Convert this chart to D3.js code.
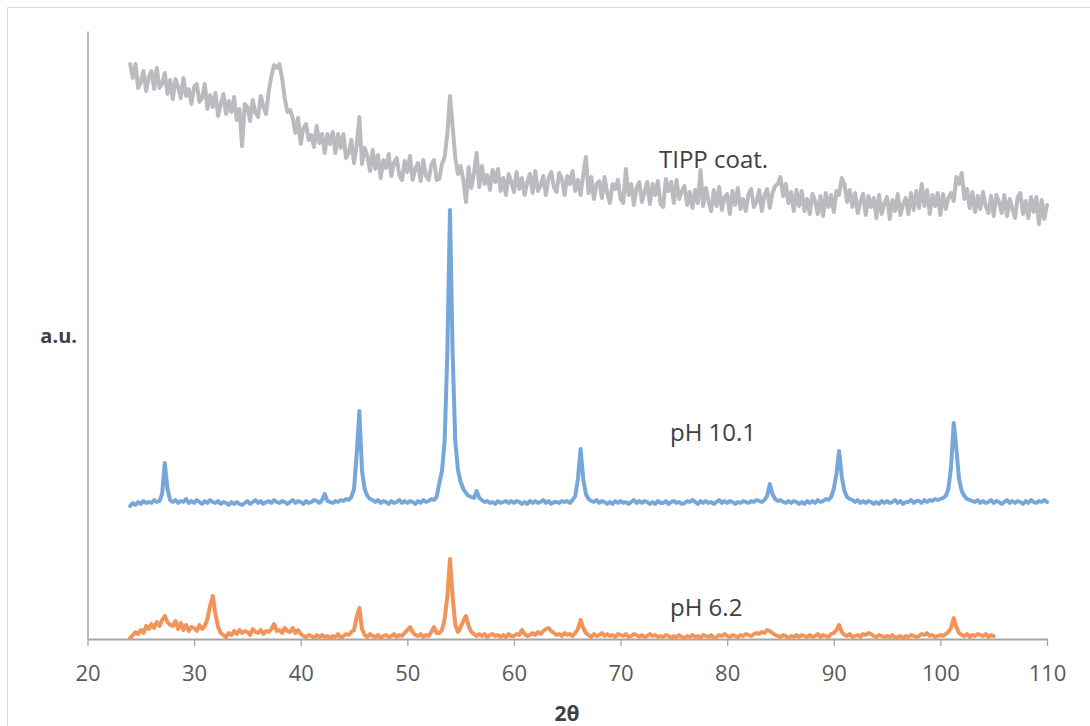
<!DOCTYPE html>
<html>
<head>
<meta charset="utf-8">
<script src="https://cdn.jsdelivr.net/npm/d3@7"></script>
<style>
  body { margin: 0; background: #fff; }
  svg { display: block; font-family: "Open Sans", "Noto Sans", sans-serif; }
</style>
</head>
<body>
<svg id="chart" width="1090" height="726"></svg>
<script>
// scan grid: 2θ starts at 24 and steps 0.25 deg
var scanStart = 24, scanStep = 0.25;
var xTicks = [20, 30, 40, 50, 60, 70, 80, 90, 100, 110];

// intensities (a.u.), one group of 4 per degree
var tippCoat = [
  575, 561, 575, 551,  557, 568, 548, 562,  568, 550, 571, 551,  555, 566, 545, 559,
  540, 560, 552, 541,  561, 543, 550, 535,  552, 555, 537, 541,  555, 530, 544, 532,
  546, 523, 535, 545,  525, 538, 527, 542,  519, 530, 493, 535,  532, 518, 539, 526,
  522, 543, 532, 525,  548, 563, 574, 571,  575, 561, 541, 527,  529, 521, 506, 521,
  495, 511, 515, 499,  504, 492, 513, 496,  505, 486, 505, 495,  507, 486, 505, 491,
  505, 481, 486, 499,  476, 494, 522, 475,  491, 483, 468, 489,  470, 484, 461, 479,
  471, 485, 463, 476,  481, 464, 459, 478,  467, 483, 459, 470,  476, 458, 479, 463,
  459, 474, 479, 459,  460, 475, 482, 505,  543, 512, 481, 465,  473, 459, 437, 472,
  451, 466, 486, 452,  473, 455, 464, 449,  469, 457, 470, 448,  461, 444, 465, 457,
  447, 467, 450, 461,  444, 457, 465, 446,  468, 448, 453, 463,  444, 461, 467, 452,
  447, 466, 460, 444,  463, 455, 468, 448,  459, 444, 464, 482,  446, 462, 440, 455,
  458, 441, 462, 446,  436, 455, 450, 459,  440, 436, 470, 444,  455, 434, 451, 457,
  437, 447, 457, 435,  455, 444, 458, 435,  432, 460, 448, 457,  436, 459, 440, 448,
  453, 434, 447, 431,  449, 436, 469, 433,  451, 438, 428, 449,  433, 452, 429, 442,
  445, 425, 448, 434,  451, 430, 440, 428,  445, 450, 432, 437,  449, 428, 444, 450,
  431, 446, 453, 455,  462, 443, 455, 436,  447, 428, 449, 433,  448, 428, 440, 425,
  445, 438, 425, 443,  423, 446, 432, 444,  427, 448, 444, 461,  455, 437, 449, 432,
  446, 426, 437, 445,  424, 443, 432, 441,  421, 444, 425, 436,  442, 420, 439, 428,
  445, 424, 435, 441,  425, 446, 429, 448,  431, 455, 433, 449,  425, 444, 433, 446,
  424, 445, 430, 441,  446, 438, 462, 455,  466, 440, 450, 431,  447, 427, 443, 430,
  447, 433, 426, 443,  423, 444, 437, 426,  444, 423, 440, 430,  421, 442, 446, 425,
  438, 421, 442, 427,  442, 415, 439, 420,  434
];

var ph101 = [
  133, 136, 134, 137,  135, 138, 136, 137,  136, 139, 137, 138,  145, 176, 150, 139,
  137, 139, 136, 138,  137, 140, 136, 138,  136, 139, 137, 135,  138, 136, 139, 137,
  136, 138, 135, 137,  136, 134, 137, 135,  137, 135, 134, 136,  138, 135, 137, 139,
  136, 138, 135, 137,  138, 136, 139, 137,  136, 138, 137, 135,  137, 139, 136, 138,
  137, 135, 138, 136,  137, 139, 138, 136,  139, 145, 138, 137,  136, 138, 137, 139,
  138, 140, 139, 142,  150, 185, 228, 168,  150, 143, 140, 139,  137, 139, 136, 138,
  137, 135, 138, 136,  137, 139, 136, 138,  136, 138, 137, 135,  138, 136, 139, 137,
  138, 140, 139, 142,  156, 168, 198, 285,  429, 285, 198, 169,  157, 150, 146, 143,
  142, 141, 148, 141,  139, 137, 138, 136,  137, 135, 138, 136,  137, 138, 136, 138,
  136, 138, 137, 135,  137, 135, 138, 136,  138, 136, 137, 139,  136, 138, 135, 137,
  137, 136, 138, 137,  138, 136, 139, 143,  160, 190, 160, 145,  140, 138, 137, 139,
  136, 138, 137, 135,  137, 135, 138, 136,  138, 136, 137, 135,  137, 139, 136, 138,
  136, 138, 137, 135,  137, 135, 138, 136,  136, 138, 135, 137,  138, 136, 137, 135,
  136, 138, 137, 139,  137, 135, 138, 136,  138, 136, 137, 135,  137, 139, 136, 138,
  136, 138, 137, 135,  137, 136, 138, 137,  136, 138, 137, 139,  138, 137, 139, 143,
  155, 145, 140, 138,  139, 137, 136, 138,  136, 138, 137, 135,  137, 135, 138, 136,
  138, 136, 139, 137,  138, 140, 139, 142,  150, 165, 188, 162,  148, 142, 140, 139,
  137, 139, 136, 138,  136, 138, 137, 135,  137, 135, 138, 136,  138, 136, 137, 139,
  136, 138, 135, 137,  137, 139, 136, 138,  138, 136, 139, 137,  139, 138, 140, 139,
  140, 141, 143, 150,  172, 216, 190, 160,  148, 143, 140, 139,  138, 137, 139, 136,
  138, 136, 137, 139,  136, 138, 137, 135,  137, 139, 136, 138,  136, 138, 137, 135,
  138, 136, 139, 137,  136, 138, 137, 139,  137
];

var ph62 = [
  1, 4, 7, 5,  9, 6, 13, 10,  15, 11, 17, 13,  19, 23, 17, 14,
  13, 18, 10, 16,  9, 14, 8, 12,  11, 8, 14, 10,  13, 20, 33, 43,
  25, 12, 6, 4,  2, 6, 4, 8,  5, 9, 6, 8,  7, 4, 10, 7,
  6, 9, 5, 8,  7, 10, 15, 8,  9, 6, 11, 8,  7, 11, 6, 9,
  5, 3, 2, 4,  3, 1, 4, 2,  4, 2, 3, 1,  3, 2, 5, 1,
  3, 5, 4, 7,  9, 22, 31, 10,  4, 2, 5, 3,  2, 4, 1, 3,
  4, 2, 3, 5,  2, 4, 3, 6,  9, 12, 7, 4,  3, 5, 2, 4,
  3, 7, 12, 6,  6, 9, 20, 42,  80, 42, 14, 7,  12, 18, 23, 13,
  7, 5, 3, 5,  3, 5, 2, 4,  5, 3, 4, 2,  4, 2, 5, 3,
  3, 5, 4, 9,  5, 3, 4, 6,  4, 7, 5, 8,  10, 11, 8, 6,
  4, 5, 3, 6,  4, 5, 3, 6,  10, 19, 11, 6,  4, 2, 5, 3,
  4, 6, 3, 5,  3, 4, 2, 5,  4, 3, 5, 2,  3, 5, 4, 2,
  4, 2, 3, 5,  3, 4, 2, 3,  2, 4, 3, 1,  3, 2, 4, 2,
  1, 3, 2, 4,  2, 3, 1, 4,  3, 2, 4, 1,  2, 4, 3, 5,
  3, 2, 4, 3,  2, 4, 3, 5,  4, 3, 5, 6,  5, 7, 6, 9,
  8, 6, 4, 3,  2, 4, 3, 1,  3, 2, 4, 2,  4, 3, 2, 4,
  2, 3, 5, 2,  4, 3, 2, 5,  6, 9, 14, 7,  4, 3, 5, 2,
  3, 4, 2, 5,  4, 6, 5, 3,  2, 4, 3, 2,  3, 2, 4, 1,
  2, 3, 1, 3,  2, 4, 3, 2,  3, 5, 4, 6,  3, 4, 2, 3,
  4, 3, 5, 7,  11, 21, 12, 6,  4, 3, 5, 2,  4, 3, 5, 4,
  3, 5, 2, 4,  3
];

var seriesNames = ["TIPP coat.", "pH 10.1", "pH 6.2"];
var seriesColors = ["#babbbe", "#76a7db", "#f29358"];

var svg = d3.select("#chart");

// outer frame (left and top edges are the ones visible)
svg.append("path")
  .attr("d", "M7.5,726V7.5H1090")
  .attr("fill", "none")
  .attr("stroke", "#d9d9d9")
  .attr("stroke-width", 1);

var x = d3.scaleLinear().domain([20, 110]).range([87.5, 1047]);
var y = d3.scaleLinear().domain([0, 608]).range([639, 31]);

// x axis
var xAxis = svg.append("g")
  .attr("transform", "translate(0,639)")
  .call(d3.axisBottom(x).tickValues(xTicks).tickSize(7).tickSizeOuter(0).tickPadding(19));
xAxis.select(".domain").attr("stroke", "#a6a6a6").attr("stroke-width", 1.8);
xAxis.selectAll(".tick line").attr("stroke", "#a6a6a6").attr("stroke-width", 1.3);
xAxis.selectAll(".tick text")
  .attr("fill", "#595959")
  .style("font-size", "22px")
  .style("font-family", "'Open Sans', sans-serif");

// y axis (no ticks)
var yAxis = svg.append("g")
  .attr("transform", "translate(87.5,0)")
  .call(d3.axisLeft(y).tickValues([]).tickSizeOuter(0));
yAxis.select(".domain").attr("stroke", "#a6a6a6").attr("stroke-width", 1.5);

var line = d3.line()
  .x(function(d, i) { return x(scanStart + i * scanStep); })
  .y(function(d) { return y(d); });

var allSeries = [tippCoat, ph101, ph62];
allSeries.forEach(function(s, k) {
  svg.append("path")
    .datum(s)
    .attr("d", line)
    .attr("fill", "none")
    .attr("stroke", seriesColors[k])
    .attr("stroke-width", 4)
    .attr("stroke-linejoin", "round")
    .attr("stroke-linecap", "round");
});

// series labels
var labelPos = [[659, 168], [670, 441], [670, 616]];
seriesNames.forEach(function(n, k) {
  svg.append("text")
    .attr("x", labelPos[k][0])
    .attr("y", labelPos[k][1])
    .attr("fill", "#404040")
    .style("font-size", "24px")
    .text(n);
});

// axis titles
svg.append("text")
  .attr("x", 77).attr("y", 343)
  .attr("text-anchor", "end")
  .attr("fill", "#404040")
  .style("font-size", "20px")
  .style("font-weight", "bold")
  .text("a.u.");

svg.append("text")
  .attr("x", 567).attr("y", 721)
  .attr("text-anchor", "middle")
  .attr("fill", "#404040")
  .style("font-size", "21px")
  .style("font-weight", "bold")
  .text("2θ");
</script>
</body>
</html>
